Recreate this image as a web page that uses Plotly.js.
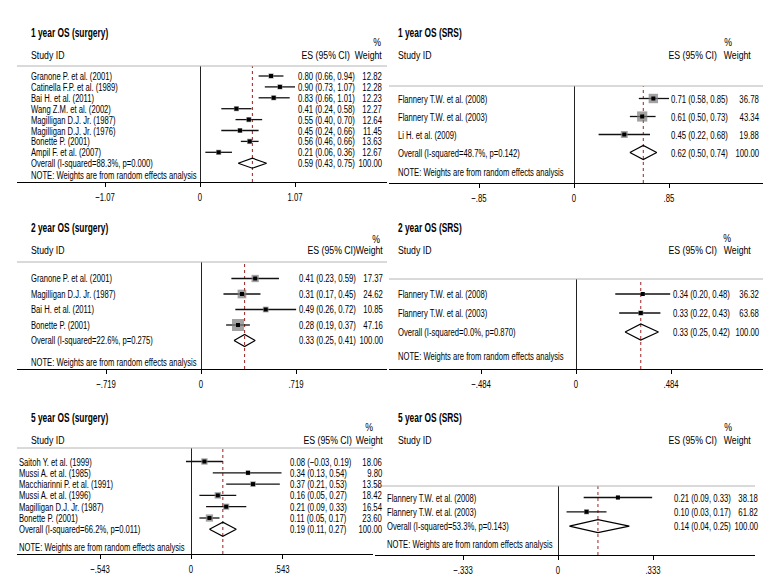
<!DOCTYPE html>
<html><head><meta charset="utf-8">
<script src="https://cdn.plot.ly/plotly-3.0.1.min.js"></script>
<style>html,body{margin:0;padding:0;background:#fff}#chart{width:780px;height:588px}</style>
</head><body><div id="chart"></div>
<script>
// ---------- DATA ----------
const titles = ["1 year OS (surgery)", "1 year OS (SRS)", "2 year OS (surgery)", "2 year OS (SRS)", "5 year OS (surgery)", "5 year OS (SRS)"];

const studies1 = ["Granone P. et al. (2001)", "Catinella F.P. et al. (1989)", "Bai H. et al. (2011)", "Wang Z.M. et al. (2002)", "Magilligan D.J. Jr. (1987)", "Magilligan D.J. Jr. (1976)", "Bonette P. (2001)", "Ampil F. et al. (2007)"];
const es1 = [0.80, 0.90, 0.83, 0.41, 0.55, 0.45, 0.56, 0.21];
const lo1 = [0.66, 0.73, 0.66, 0.24, 0.40, 0.24, 0.46, 0.06];
const hi1 = [0.94, 1.07, 1.01, 0.58, 0.70, 0.66, 0.66, 0.36];
const w1  = [12.82, 12.28, 12.23, 12.27, 12.64, 11.45, 13.63, 12.67];

const studies2 = ["Flannery T.W. et al. (2008)", "Flannery T.W. et al. (2003)", "Li H. et al. (2009)"];
const es2 = [0.71, 0.61, 0.45];
const lo2 = [0.58, 0.50, 0.22];
const hi2 = [0.85, 0.73, 0.68];
const w2  = [36.78, 43.34, 19.88];

const studies3 = ["Granone P. et al. (2001)", "Magilligan D.J. Jr. (1987)", "Bai H. et al. (2011)", "Bonette P. (2001)"];
const es3 = [0.41, 0.31, 0.49, 0.28];
const lo3 = [0.23, 0.17, 0.26, 0.19];
const hi3 = [0.59, 0.45, 0.72, 0.37];
const w3  = [17.37, 24.62, 10.85, 47.16];

const studies4 = ["Flannery T.W. et al. (2008)", "Flannery T.W. et al. (2003)"];
const es4 = [0.34, 0.33];
const lo4 = [0.20, 0.22];
const hi4 = [0.48, 0.43];
const w4  = [36.32, 63.68];

const studies5 = ["Saitoh Y. et al. (1999)", "Mussi A. et al. (1985)", "Macchiarinni P. et al. (1991)", "Mussi A. et al. (1996)", "Magilligan D.J. Jr. (1987)", "Bonette P. (2001)"];
const es5 = [0.08, 0.34, 0.37, 0.16, 0.21, 0.11];
const lo5 = [-0.03, 0.13, 0.21, 0.05, 0.09, 0.05];
const hi5 = [0.19, 0.54, 0.53, 0.27, 0.33, 0.17];
const w5  = [18.06, 9.80, 13.58, 18.42, 16.54, 23.60];

const studies6 = ["Flannery T.W. et al. (2008)", "Flannery T.W. et al. (2003)"];
const es6 = [0.21, 0.10];
const lo6 = [0.09, 0.03];
const hi6 = [0.33, 0.17];
const w6  = [38.18, 61.82];

// overall: ES, lower, upper
const overallES = [0.59, 0.62, 0.33, 0.33, 0.19, 0.14];
const overallLo = [0.43, 0.50, 0.25, 0.25, 0.11, 0.04];
const overallHi = [0.75, 0.74, 0.41, 0.42, 0.27, 0.25];
const iSquared  = [88.3, 48.7, 22.6, 0.0, 66.2, 53.3];
const pValues   = [0.000, 0.142, 0.275, 0.870, 0.011, 0.143];

const tickMax    = [1.07, 0.85, 0.719, 0.484, 0.543, 0.333];
const tickLabels = [["\u22121.07", "0", "1.07"], ["\u2212.85", "0", ".85"], ["\u2212.719", "0", ".719"],
                    ["\u2212.484", "0", ".484"], ["\u2212.543", "0", ".543"], ["\u2212.333", "0", ".333"]];
const headers = ["Study ID", "ES (95% CI)", "Weight", "%"];
const noteText = "NOTE: Weights are from random effects analysis";

// ---------- LAYOUT GEOMETRY (pixels) ----------
const W = 780, H = 588;
const geom = [
 {left:17,  right:387, zero:200, tickPx:95, top:66,  axis:182, row0:76,    sp:10.9, noteGap:1.05, titleX:30,  titleY:33,  pctX:376.5, pctY:42,  hdrY:55,  hdrX:30,  nameX:30,  esX:297, esHdrR:351, wR:383, wHdrR:383, diamH:5,   boxK:1.45},
 {left:389, right:763, zero:574, tickPx:95, top:86,  axis:183, row0:98.5,  sp:18,   noteGap:1.1,  titleX:397, titleY:33,  pctX:727.5, pctY:42,  hdrY:55,  hdrX:397, nameX:397, esX:670, esHdrR:718, wR:760, wHdrR:752, diamH:7,   boxK:1.55},
 {left:17,  right:387, zero:201, tickPx:95, top:262, axis:369, row0:278.5, sp:15.5, noteGap:1.4,  titleX:30,  titleY:228, pctX:375.5, pctY:239, hdrY:250, hdrX:30,  nameX:30,  esX:298, esHdrR:357, wR:384, wHdrR:384, diamH:6,   boxK:1.75},
 {left:389, right:763, zero:576, tickPx:95, top:279, axis:369, row0:294,   sp:19,   noteGap:1.26, titleX:397, titleY:228, pctX:727,   pctY:238, hdrY:250, hdrX:397, nameX:397, esX:672, esHdrR:718, wR:760, wHdrR:752, diamH:8,   boxK:0.65},
 {left:17,  right:373, zero:191, tickPx:91, top:448, axis:554, row0:461.5, sp:11.3, noteGap:1.57, titleX:30,  titleY:418, pctX:369,   pctY:427, hdrY:440, hdrX:30,  nameX:18,  esX:289, esHdrR:353, wR:383, wHdrR:384, diamH:7,   boxK:1.5},
 {left:375, right:755, zero:558, tickPx:95, top:486, axis:555, row0:497.5, sp:14.3, noteGap:1.23, titleX:397, titleY:418, pctX:727.5, pctY:427, hdrY:440, hdrX:397, nameX:386, esX:673, esHdrR:718, wR:759, wHdrR:752, diamH:6.5, boxK:0.65}
];

const studyLists = [studies1, studies2, studies3, studies4, studies5, studies6];
const esLists = [es1, es2, es3, es4, es5, es6];
const loLists = [lo1, lo2, lo3, lo4, lo5, lo6];
const hiLists = [hi1, hi2, hi3, hi4, hi5, hi6];
const wLists  = [w1, w2, w3, w4, w5, w6];

const FONT = '"Liberation Sans", Arial, sans-serif';
const FS = 11.5;
const fmt = v => v.toFixed(2).replace('-', '\u2212');
const esStr = (e, l, h) => `${fmt(e)} (${fmt(l)}, ${fmt(h)})`;

const traces = [];
const layout = {
  width: W, height: H, margin: {l:0, r:0, t:0, b:0},
  paper_bgcolor: '#fff', plot_bgcolor: 'rgba(0,0,0,0)',
  showlegend: false, font: {family: FONT, size: FS, color: '#000'},
  annotations: [], shapes: []
};

function pAnn(text, xpx, ypx, xanchor, extra) {
  layout.annotations.push(Object.assign({
    text, x: xpx / W, y: 1 - ypx / H, xref: 'paper', yref: 'paper',
    xanchor, align: xanchor, yanchor: 'middle', showarrow: false, borderpad: 0,
    font: {family: FONT, size: FS, color: '#000'}
  }, extra || {}));
}
function rAnn(text, xpx, row, yref, xanchor) {
  layout.annotations.push({
    text, x: xpx / W, y: row, xref: 'paper', yref,
    xanchor, align: xanchor, yanchor: 'middle', showarrow: false, borderpad: 0,
    font: {family: FONT, size: FS, color: '#000'}
  });
}

geom.forEach((g, i) => {
  const n = i + 1;
  const xa = n === 1 ? 'x' : 'x' + n, ya = n === 1 ? 'y' : 'y' + n;
  const xKey = n === 1 ? 'xaxis' : 'xaxis' + n, yKey = n === 1 ? 'yaxis' : 'yaxis' + n;
  const ppu = g.tickPx / tickMax[i];
  const studies = studyLists[i], es = esLists[i], lo = loLists[i], hi = hiLists[i], w = wLists[i];
  const k = studies.length;
  const rows = studies.map((_, j) => j);
  const overallRow = k, noteRow = k + g.noteGap;

  layout[xKey] = {
    domain: [g.left / W, g.right / W], anchor: ya,
    range: [(g.left - g.zero) / ppu, (g.right - g.zero) / ppu],
    showgrid: false, zeroline: true, zerolinecolor: '#222', zerolinewidth: 1,
    showline: true, linecolor: '#000', linewidth: 1,
    ticks: 'outside', ticklen: 4, tickcolor: '#000', tickwidth: 1,
    tickvals: [-tickMax[i], 0, tickMax[i]], ticktext: tickLabels[i],
    tickfont: {family: FONT, size: 11.5, color: '#000'}, fixedrange: true
  };
  layout[yKey] = {
    domain: [1 - g.axis / H, 1 - g.top / H], anchor: xa,
    range: [(g.axis - g.row0) / g.sp, (g.top - g.row0) / g.sp],
    visible: false, showgrid: false, zeroline: false, fixedrange: true
  };

  layout.shapes.push({type: 'line', xref: xa + ' domain', yref: ya + ' domain', x0: 0, x1: 1, y0: 1, y1: 1,
    line: {color: '#b4b4b4', width: 1}});
  layout.shapes.push({type: 'line', xref: xa, yref: ya + ' domain', x0: overallES[i], x1: overallES[i], y0: 0, y1: 1,
    line: {color: '#9b2020', width: 1, dash: 'dot'}, layer: 'below'});

  const cx = [], cy = [];
  rows.forEach(j => { cx.push(lo[j], hi[j], null); cy.push(j, j, null); });
  traces.push({type: 'scatter', mode: 'lines', x: cx, y: cy, xaxis: xa, yaxis: ya,
    line: {color: '#111', width: 1.3}, hoverinfo: 'skip'});
  traces.push({type: 'scatter', mode: 'markers', x: es, y: rows, xaxis: xa, yaxis: ya,
    marker: {symbol: 'square', color: '#7a7a7a', size: w.map(v => g.boxK * Math.sqrt(v)), line: {width: 0}},
    hoverinfo: 'skip'});
  traces.push({type: 'scatter', mode: 'markers', x: es, y: rows, xaxis: xa, yaxis: ya,
    marker: {symbol: 'square', color: '#000', size: 4, line: {width: 0}}, hoverinfo: 'skip'});
  const dh = g.diamH / g.sp;
  traces.push({type: 'scatter', mode: 'lines', xaxis: xa, yaxis: ya,
    x: [overallLo[i], overallES[i], overallHi[i], overallES[i], overallLo[i]],
    y: [overallRow, overallRow - dh, overallRow, overallRow + dh, overallRow],
    line: {color: '#000', width: 1.2}, hoverinfo: 'skip'});

  pAnn('<b>' + titles[i] + '</b>', g.titleX, g.titleY, 'left', {font: {family: FONT, size: 12.5, color: '#000'}});
  pAnn(headers[3], g.pctX, g.pctY, 'center');
  pAnn(headers[0], g.hdrX, g.hdrY, 'left');
  pAnn(headers[1], g.esHdrR, g.hdrY, 'right');
  pAnn(headers[2], g.wHdrR, g.hdrY, 'right');

  rows.forEach(j => {
    rAnn(studies[j], g.nameX, j, ya, 'left');
    rAnn(esStr(es[j], lo[j], hi[j]), g.esX, j, ya, 'left');
    rAnn(w[j].toFixed(2), g.wR, j, ya, 'right');
  });
  rAnn(`Overall (I-squared=${iSquared[i].toFixed(1)}%, p=${pValues[i].toFixed(3)})`, g.nameX, overallRow, ya, 'left');
  rAnn(esStr(overallES[i], overallLo[i], overallHi[i]), g.esX, overallRow, ya, 'left');
  rAnn((100).toFixed(2), g.wR, overallRow, ya, 'right');
  rAnn(noteText, g.nameX, noteRow, ya, 'left');
});

// condense text horizontally (about its anchor) to mimic the reference's condensed typeface
function condense(gd) {
  gd.querySelectorAll('svg text').forEach(t => {
    const s = t.textContent;
    if (!s) return;
    let bb;
    try { bb = t.getBBox(); } catch (e) { return; }
    if (!(bb.width > 0)) return;
    let f = 0.665;
    if (/^[\d\s.,()%\u2212-]+$/.test(s)) f = 0.675;
    if (headers.includes(s)) f = 0.76;
    if (titles.includes(s)) f = 0.67;
    const anchor = t.getAttribute('text-anchor') || 'start';
    const x0 = anchor === 'end' ? bb.x + bb.width : (anchor === 'middle' ? bb.x + bb.width / 2 : bb.x);
    const tr = t.getAttribute('transform') || '';
    t.setAttribute('transform', `${tr} translate(${x0},0) scale(${f},1) translate(${-x0},0)`.trim());
  });
  // keep annotation background boxes in step with the condensed text
  gd.querySelectorAll('g.annotation rect.bg').forEach(r => r.setAttribute('width', 0));
}
Plotly.newPlot('chart', traces, layout, {staticPlot: true, displayModeBar: false}).then(condense);
</script>
</body></html>
